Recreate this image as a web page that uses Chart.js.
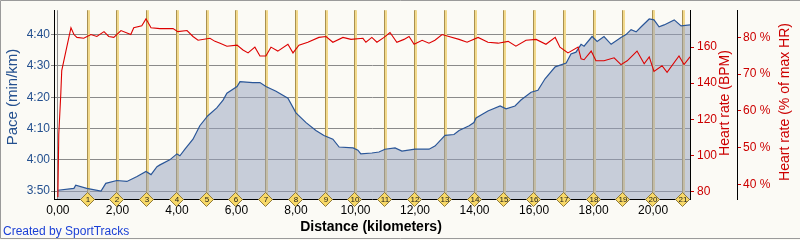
<!DOCTYPE html>
<html>
<head>
<meta charset="utf-8">
<script src="https://cdn.jsdelivr.net/npm/chart.js@4"></script>
<style>
  body { margin: 0; background: #fbfaf5; }
  canvas { display: block; }
</style>
</head>
<body>
<canvas id="paceChart" width="800" height="240"></canvas>
<script>
// pace (seconds per km) sampled along the distance
const paceKm  = [0.00, 0.54, 0.60, 0.97, 1.45, 1.61, 1.98, 2.32, 2.66, 2.96, 3.13, 3.33, 3.43, 3.76, 4.00, 4.10, 4.27, 4.54, 4.77, 5.04,
                 5.34, 5.55, 5.68, 6.02, 6.12, 6.55, 6.79, 6.99, 7.33, 7.73, 8.00, 8.34, 8.67, 8.94, 9.24, 9.45, 9.92, 10.08, 10.18, 10.55,
                 10.79, 10.99, 11.33, 11.56, 12.00, 12.47, 12.67, 13.01, 13.31, 13.48, 13.82, 13.98, 14.05, 14.45, 14.86, 15.06, 15.36, 15.56, 15.90, 16.13,
                 16.37, 16.71, 17.08, 17.24, 17.41, 17.58, 17.68, 17.95, 18.12, 18.35, 18.59, 18.92, 19.09, 19.26, 19.43, 19.60, 19.87, 20.03, 20.20, 20.37,
                 20.71, 20.94, 21.24];
const paceSec = [230.3, 230.9, 231.9, 230.9, 230.0, 232.5, 233.4, 233.1, 234.7, 236.3, 235.3, 237.8, 238.4, 240.0, 241.9, 241.3, 243.4, 246.6, 250.9, 254.1,
                 256.6, 259.1, 261.3, 263.4, 265.0, 264.7, 264.7, 263.4, 261.9, 259.7, 255.0, 251.9, 249.4, 247.8, 246.6, 244.1, 243.8, 243.1, 241.9, 242.2,
                 242.5, 243.4, 243.8, 242.8, 243.4, 243.4, 244.4, 247.8, 248.1, 249.4, 250.9, 251.9, 253.4, 255.6, 257.2, 256.3, 257.2, 259.1, 261.6, 262.2,
                 265.9, 269.7, 270.9, 273.8, 274.4, 276.9, 276.3, 279.4, 277.8, 279.4, 276.9, 279.1, 280.0, 281.6, 280.9, 282.5, 285.0, 284.7, 282.5, 283.1,
                 284.7, 282.8, 283.1];

// heart rate (BPM)
const hrKm  = [0.00, 0.03, 0.10, 0.13, 0.27, 0.37, 0.44, 0.54, 0.64, 0.87, 1.11, 1.31, 1.55, 1.71, 1.88, 2.12, 2.45, 2.55, 2.82, 2.96,
               3.13, 3.43, 3.87, 4.03, 4.34, 4.54, 4.71, 5.11, 5.28, 5.45, 5.68, 6.02, 6.22, 6.39, 6.62, 6.79, 6.99, 7.16, 7.39, 7.73,
               7.90, 8.10, 8.40, 8.77, 9.01, 9.24, 9.58, 9.85, 10.25, 10.35, 10.55, 10.72, 10.96, 11.16, 11.39, 11.63, 11.80, 11.97, 12.24, 12.47,
               12.67, 12.91, 13.14, 13.48, 13.75, 14.12, 14.45, 14.79, 15.13, 15.39, 15.73, 16.07, 16.40, 16.71, 16.87, 17.14, 17.48, 17.58, 17.68, 17.92,
               18.08, 18.35, 18.69, 18.92, 19.13, 19.46, 19.70, 19.87, 20.03, 20.30, 20.47, 20.87, 21.04, 21.24];
const hrBpm = [76.8, 111.4, 134.6, 147.0, 157.8, 165.4, 170.8, 167.0, 165.4, 164.9, 167.0, 165.9, 168.6, 165.9, 165.4, 169.2, 167.0, 170.8, 171.9, 175.7,
               170.8, 170.3, 170.3, 168.6, 169.2, 165.9, 163.8, 164.9, 163.2, 162.2, 160.5, 161.1, 158.4, 156.8, 160.0, 155.1, 155.1, 160.0, 157.8, 161.6,
               156.8, 161.1, 162.7, 165.4, 165.9, 162.7, 165.4, 164.3, 164.9, 162.7, 165.4, 162.7, 165.4, 168.1, 162.7, 164.3, 165.9, 161.6, 163.8, 162.2,
               163.8, 167.0, 165.9, 164.3, 162.7, 165.4, 162.7, 162.2, 163.2, 160.5, 163.8, 164.3, 161.6, 165.4, 160.0, 156.8, 160.0, 153.5, 153.0, 157.8,
               152.4, 152.4, 154.1, 150.3, 152.4, 157.8, 150.8, 154.6, 146.5, 149.7, 146.0, 155.1, 150.3, 154.6];

const distTicks  = [0, 2, 4, 6, 8, 10, 12, 14, 16, 18, 20];
const paceTicks  = [230, 240, 250, 260, 270, 280];
const bpmTicks   = [80, 100, 120, 140, 160];
const pctTicks   = [40, 50, 60, 70, 80];
const kmMarkers  = [1, 2, 3, 4, 5, 6, 7, 8, 9, 10, 11, 12, 13, 14, 15, 16, 17, 18, 19, 20, 21];

const BLUE = '#24508f';
const RED = '#cc0000';
const BG = '#fbfaf5';
const FONT = '"Liberation Sans", Arial, sans-serif';

Chart.defaults.font.family = FONT;

function fmtPace(v) {
    const m = Math.floor(v / 60);
    const s = Math.round(v - m * 60);
    return m + ':' + (s < 10 ? '0' : '') + s;
}

const fixedTicks = list => scale => { scale.ticks = list.map(v => ({ value: v })); };

const sportTracksPlugin = {
    id: 'sportTracks',
    beforeDraw(chart) {
        const ctx = chart.ctx;
        ctx.save();
        ctx.fillStyle = BG;
        ctx.fillRect(0, 0, chart.width, chart.height);
        ctx.strokeStyle = '#9a9a9a';
        ctx.lineWidth = 1;
        ctx.beginPath();
        ctx.moveTo(chart.width, 0.5); ctx.lineTo(0.5, 0.5);
        ctx.lineTo(0.5, chart.height - 1.5); ctx.lineTo(chart.width, chart.height - 1.5);
        ctx.stroke();
        ctx.restore();
    },
    beforeDatasetsDraw(chart) {
        // kilometre split lines
        const ctx = chart.ctx, area = chart.chartArea, xs = chart.scales.x;
        ctx.save();
        kmMarkers.forEach(km => {
            const x = Math.round(xs.getPixelForValue(km));
            ctx.fillStyle = '#a89050';
            ctx.fillRect(x - 1, area.top, 1, area.bottom - area.top);
            ctx.fillStyle = '#f2d98c';
            ctx.fillRect(x, area.top, 2, area.bottom - area.top);
        });
        ctx.restore();
    },
    afterDraw(chart) {
        const ctx = chart.ctx, area = chart.chartArea, xs = chart.scales.x;
        ctx.save();
        // diamonds with km numbers
        kmMarkers.forEach(km => {
            const x = Math.round(xs.getPixelForValue(km)) - 0.5;
            const y = area.bottom + 0.5;
            ctx.beginPath();
            ctx.moveTo(x, y - 7); ctx.lineTo(x + 7, y); ctx.lineTo(x, y + 7); ctx.lineTo(x - 7, y);
            ctx.closePath();
            ctx.fillStyle = '#f8d968';
            ctx.fill();
            ctx.strokeStyle = '#8f7a3c';
            ctx.lineWidth = 1;
            ctx.stroke();
            ctx.fillStyle = '#1a1a1a';
            ctx.font = '8px ' + FONT;
            ctx.textAlign = 'center';
            ctx.textBaseline = 'middle';
            ctx.fillText(String(km), x + 0.5, y + 0.5);
        });

        // axis titles
        const vtitle = (text, x, y, color, font) => {
            ctx.save();
            ctx.translate(x, y);
            ctx.rotate(-Math.PI / 2);
            ctx.fillStyle = color;
            ctx.font = font;
            ctx.textAlign = 'center';
            ctx.textBaseline = 'middle';
            ctx.fillText(text, 0, 0);
            ctx.restore();
        };
        vtitle('Pace (min/km)', 13, 97, BLUE, '15px ' + FONT);
        vtitle('Heart rate (BPM)', 725, 103, RED, '14px ' + FONT);
        vtitle('Heart rate (% of max HR)', 785, 102, RED, '14px ' + FONT);

        ctx.fillStyle = '#000';
        ctx.font = 'bold 14px ' + FONT;
        ctx.textAlign = 'center';
        ctx.textBaseline = 'middle';
        ctx.fillText('Distance (kilometers)', 371, 227);

        ctx.fillStyle = '#1a3fd6';
        ctx.font = '12px ' + FONT;
        ctx.textAlign = 'left';
        ctx.fillText('Created by SportTracks', 3, 232);
        ctx.restore();
    }
};

const ctx = document.getElementById('paceChart').getContext('2d');
new Chart(ctx, {
    type: 'line',
    data: {
        datasets: [
            {
                label: 'Heart rate',
                data: hrKm.map((k, i) => ({ x: k, y: hrBpm[i] })),
                yAxisID: 'bpm',
                borderColor: '#dd0000',
                borderWidth: 1.1,
                pointRadius: 0,
                tension: 0,
                fill: false
            },
            {
                label: 'Pace',
                data: paceKm.map((k, i) => ({ x: k, y: paceSec[i] })),
                yAxisID: 'pace',
                borderColor: '#2a5698',
                borderWidth: 1.2,
                backgroundColor: 'rgba(148, 160, 190, 0.5)',
                pointRadius: 0,
                tension: 0,
                fill: 'start'
            }
        ]
    },
    options: {
        responsive: false,
        animation: false,
        devicePixelRatio: 1,
        layout: { padding: { top: 5, left: 0, right: 0, bottom: 0 } },
        plugins: {
            legend: { display: false },
            tooltip: { enabled: false }
        },
        scales: {
            x: {
                type: 'linear',
                min: -0.13,
                max: 21.24,
                afterBuildTicks: fixedTicks(distTicks),
                afterFit: s => { s.height = 41; },
                border: { color: '#000', width: 1 },
                grid: { color: '#8a8a8a', tickLength: 0, borderDash: [1, 2] },
                ticks: {
                    color: '#000',
                    font: { size: 12 },
                    padding: 4,
                    maxRotation: 0,
                    callback: v => v.toFixed(2).replace('.', ',')
                }
            },
            pace: {
                position: 'left',
                min: 227.5,
                max: 287.8,
                afterBuildTicks: fixedTicks(paceTicks),
                afterFit: s => { s.width = 54; },
                border: { color: '#000', width: 1 },
                grid: { color: '#8a8a8a', tickLength: 3, borderDash: [1, 2] },
                ticks: { color: BLUE, font: { size: 12 }, padding: 1, callback: fmtPace }
            },
            bpm: {
                position: 'right',
                weight: 0,
                min: 75.7,
                max: 180.5,
                afterBuildTicks: fixedTicks(bpmTicks),
                afterFit: s => { s.width = 47; },
                border: { color: '#000', width: 1 },
                grid: { drawOnChartArea: false, color: RED, tickLength: 4 },
                ticks: { color: RED, font: { size: 12 }, padding: 3 }
            },
            pct: {
                position: 'right',
                weight: 1,
                min: 36.0,
                max: 87.4,
                afterBuildTicks: fixedTicks(pctTicks),
                afterFit: s => { s.width = 63; },
                border: { color: '#000', width: 1 },
                grid: { drawOnChartArea: false, color: RED, tickLength: 4 },
                ticks: { color: RED, font: { size: 12 }, padding: 2, callback: v => v + ' %' }
            }
        }
    },
    plugins: [sportTracksPlugin]
});
</script>
</body>
</html>
